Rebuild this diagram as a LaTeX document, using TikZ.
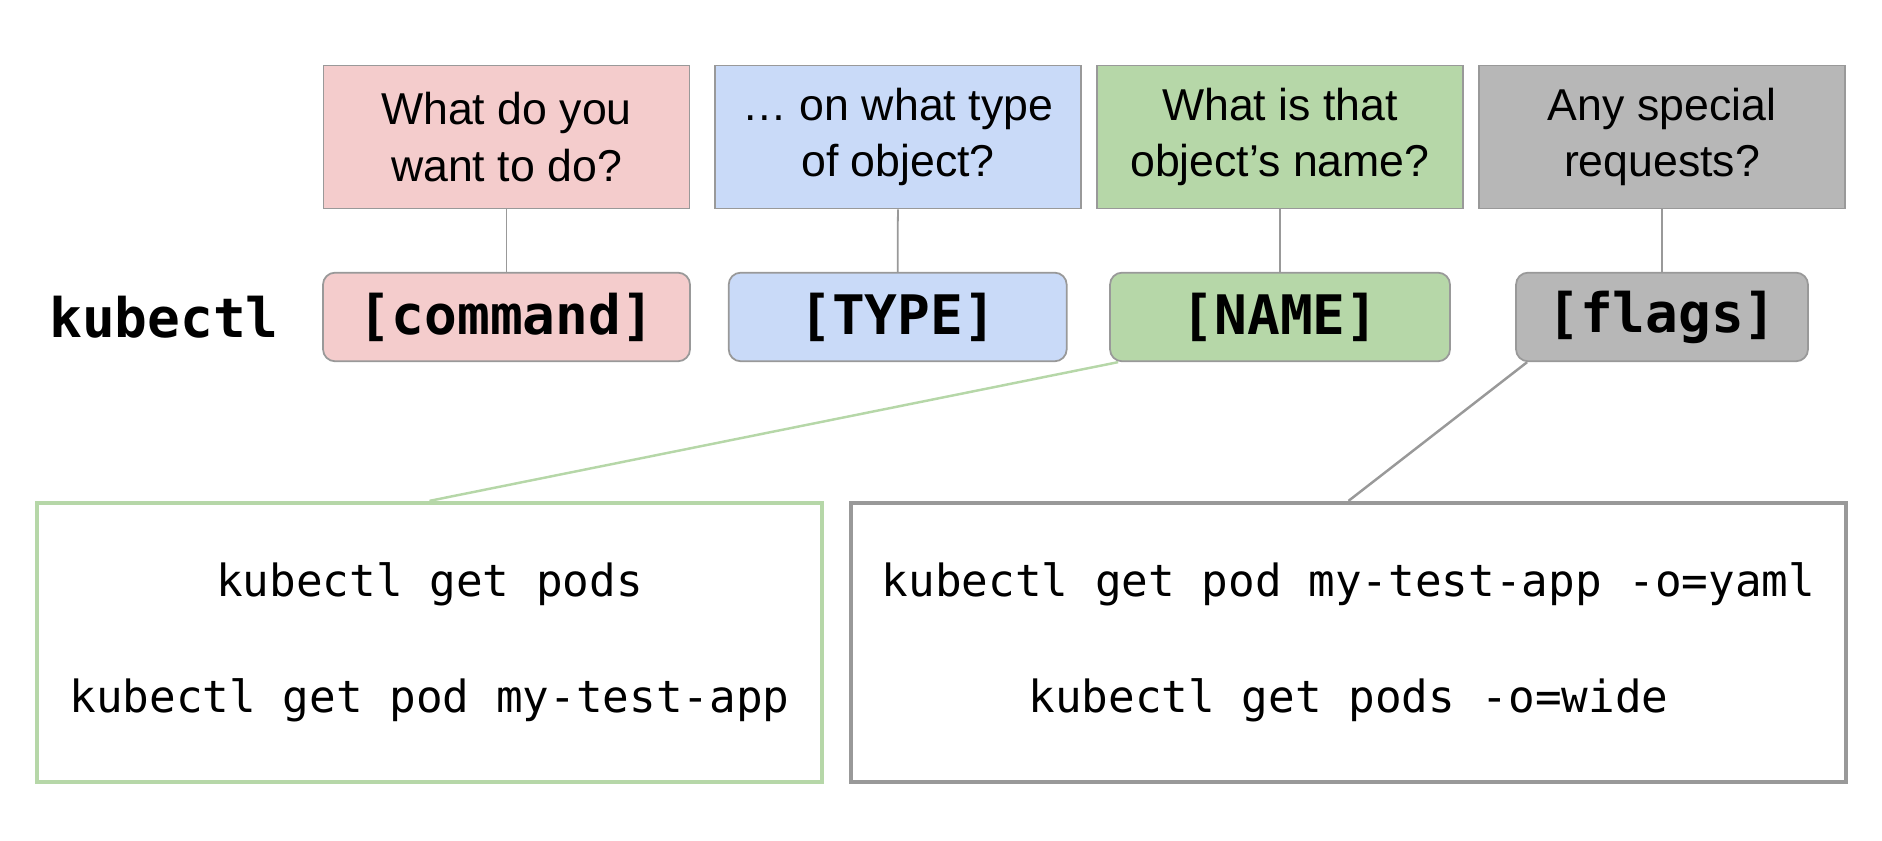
\documentclass[tikz,border=0pt]{standalone}
\usepackage{fontspec}
\setmainfont{Liberation Sans}
\setmonofont{DejaVu Sans Mono}
\usepackage{xcolor}
\usepackage{tikz}

\definecolor{cmdpink}{HTML}{F4CCCC}
\definecolor{typeblue}{HTML}{C9DAF8}
\definecolor{namegreen}{HTML}{B6D7A8}
\definecolor{flaggrey}{HTML}{B7B7B7}
\definecolor{edgegrey}{HTML}{999999}

\tikzset{
	ask/.style={draw=edgegrey, line width=0.5pt, rectangle, minimum width=3.66cm, minimum height=1.43cm, inner sep=0pt, align=center, font=\fontsize{12.7}{16}\selectfont},
	part/.style={draw=edgegrey, line width=0.5pt, rectangle, rounded corners=0.12cm, minimum height=0.886cm, inner sep=0pt, font=\ttfamily\bfseries\fontsize{15.5}{18}\selectfont},
	example/.style={rectangle, line width=1.2pt, minimum height=2.79cm, inner sep=0pt, align=center, font=\ttfamily\fontsize{12.6}{33}\selectfont},
	link/.style={draw=edgegrey, line width=0.5pt},
}

\begin{document}
\begin{tikzpicture}
	\useasboundingbox (0,0) rectangle (18.82,8.41);
	\node[ask, fill=cmdpink] (askcmd) at (5.065,7.04) {What do you\\want to do?};
	\node[ask, fill=typeblue] (asktype) at (8.98,7.04) {\dots{} on what type\\of object?};
	\node[ask, fill=namegreen] (askname) at (12.80,7.04) {What is that\\object’s name?};
	\node[ask, fill=flaggrey] (askflags) at (16.62,7.04) {Any special\\requests?};
	\node[font=\ttfamily\bfseries\fontsize{15.5}{18}\selectfont] (kubectl) at (1.64,5.24) {kubectl};
	\node[part, fill=cmdpink, minimum width=3.67cm] (cmd) at (5.065,5.24) {[command]};
	\node[part, fill=typeblue, minimum width=3.38cm] (type) at (8.977,5.24) {[TYPE]};
	\node[part, fill=namegreen, minimum width=3.40cm] (name) at (12.80,5.24) {[NAME]};
	\node[part, fill=flaggrey, minimum width=2.92cm] (flags) at (16.62,5.24) {[flags]};
	\node[example, draw=namegreen, minimum width=7.85cm] (exname) at (4.295,1.985) {kubectl get pods\\kubectl get pod my-test-app};
	\node[example, draw=edgegrey, minimum width=9.95cm] (exflags) at (13.485,1.985) {kubectl get pod my-test-app -o=yaml\\kubectl get pods -o=wide};
	\draw[link] (askcmd) -- (cmd);
	\draw[link] (asktype) -- (type);
	\draw[link] (askname) -- (name);
	\draw[link] (askflags) -- (flags);
	\draw[link, draw=namegreen, line width=0.7pt] ([xshift=0.09cm]name.south west) -- (exname.north);
	\draw[link, line width=0.7pt] ([xshift=0.12cm]flags.south west) -- (exflags.north);
\end{tikzpicture}
\end{document}
